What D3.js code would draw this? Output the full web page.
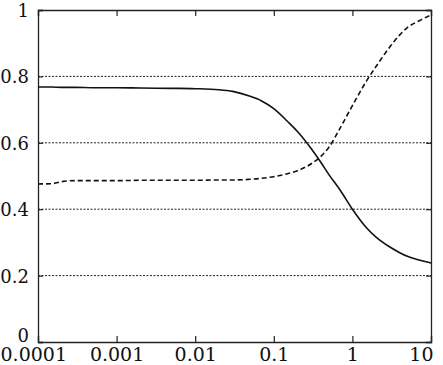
<!DOCTYPE html>
<html>
<head>
<meta charset="utf-8">
<script src="https://cdn.jsdelivr.net/npm/d3@7"></script>
<style>
body { margin: 0; background: #fff; }
svg text { font-family: "DejaVu Serif", serif; font-size: 19px; fill: #111; }
</style>
</head>
<body>
<script>
// x positions (log scale) and the two curves
var xs = [0.0001, 0.00015, 0.0002, 0.0003, 0.0005, 0.001, 0.002, 0.005, 0.01, 0.02, 0.03, 0.05, 0.07, 0.1, 0.15, 0.2, 0.3, 0.4, 0.5, 0.7, 1, 1.5, 2, 3, 4, 5, 7, 10];
var solid = [0.768, 0.768, 0.767, 0.767, 0.766, 0.766, 0.765, 0.764, 0.763, 0.760, 0.755, 0.740, 0.726, 0.703, 0.664, 0.634, 0.582, 0.540, 0.505, 0.457, 0.400, 0.345, 0.316, 0.286, 0.269, 0.258, 0.247, 0.238];
var dashed = [0.476, 0.477, 0.483, 0.486, 0.486, 0.486, 0.487, 0.487, 0.487, 0.488, 0.488, 0.490, 0.493, 0.498, 0.507, 0.516, 0.537, 0.560, 0.586, 0.645, 0.712, 0.785, 0.830, 0.889, 0.925, 0.947, 0.967, 0.985];
var xTicks = [0.0001, 0.001, 0.01, 0.1, 1, 10];
var xTickLabels = ["0.0001", "0.001", "0.01", "0.1", "1", "10"];
var yTicks = [0, 0.2, 0.4, 0.6, 0.8, 1];
var yTickLabels = ["0", "0.2", "0.4", "0.6", "0.8", "1"];

var W = 443, H = 365;
var mLeft = 38, mRight = 431, mTop = 10, mBottom = 342;

var svg = d3.select("body").append("svg").attr("width", W).attr("height", H);

var x = d3.scaleLog().domain([0.0001, 10]).range([mLeft, mRight]);
var y = d3.scaleLinear().domain([0, 1]).range([mBottom, mTop]);

// dotted grid lines
svg.append("g").selectAll("line")
  .data(yTicks.filter(function(d){ return d > 0 && d < 1; }))
  .enter().append("line")
  .attr("x1", mLeft).attr("x2", mRight)
  .attr("y1", function(d){ return y(d); })
  .attr("y2", function(d){ return y(d); })
  .attr("stroke", "#222").attr("stroke-width", 1)
  .attr("stroke-dasharray", "2,1.5");

// axes with inward ticks
var bottomAxis = d3.axisBottom(x).tickValues(xTicks).tickSize(-6).tickPadding(4)
  .tickFormat(function(d, i){ return xTickLabels[i]; });
var gb = svg.append("g").attr("transform", "translate(0," + mBottom + ")").call(bottomAxis);
gb.selectAll("text").attr("dy", null).attr("y", 19);
gb.selectAll("text").filter(function(d, i){ return i == 0; }).attr("text-anchor", "start").attr("x", -38);
gb.selectAll("text").filter(function(d, i){ return i == xTicks.length - 1; }).attr("text-anchor", "end").attr("x", 2);

svg.append("g").attr("transform", "translate(0," + mTop + ")")
  .call(d3.axisTop(x).tickValues(xTicks).tickSize(-6).tickFormat(""));

var gl = svg.append("g").attr("transform", "translate(" + mLeft + ",0)")
  .call(d3.axisLeft(y).tickValues(yTicks).tickSize(-5).tickPadding(9)
    .tickFormat(function(d, i){ return yTickLabels[i]; }));
gl.selectAll("text").attr("dy", "0.36em");
gl.selectAll("text").filter(function(d){ return d == 0; }).attr("y", -7); // lift "0" off the x labels

svg.append("g").attr("transform", "translate(" + mRight + ",0)")
  .call(d3.axisRight(y).tickValues(yTicks).tickSize(-5).tickFormat(""));

svg.selectAll(".domain").attr("stroke", "#222").attr("stroke-width", 1.3);
svg.selectAll(".tick line").attr("stroke", "#222").attr("stroke-width", 1.2);
svg.selectAll(".tick text").style("font-family", "DejaVu Serif").style("font-size", "19px").attr("fill", "#111");
gl.selectAll("text").style("font-size", "18px");

var line = d3.line().curve(d3.curveMonotoneX)
  .x(function(d){ return x(d[0]); })
  .y(function(d){ return y(d[1]); });

svg.append("path")
  .datum(xs.map(function(v, i){ return [v, solid[i]]; }))
  .attr("d", line)
  .attr("fill", "none").attr("stroke", "#111").attr("stroke-width", 1.6);

svg.append("path")
  .datum(xs.map(function(v, i){ return [v, dashed[i]]; }))
  .attr("d", line)
  .attr("fill", "none").attr("stroke", "#111").attr("stroke-width", 1.6)
  .attr("stroke-dasharray", "5,3");
</script>
</body>
</html>
